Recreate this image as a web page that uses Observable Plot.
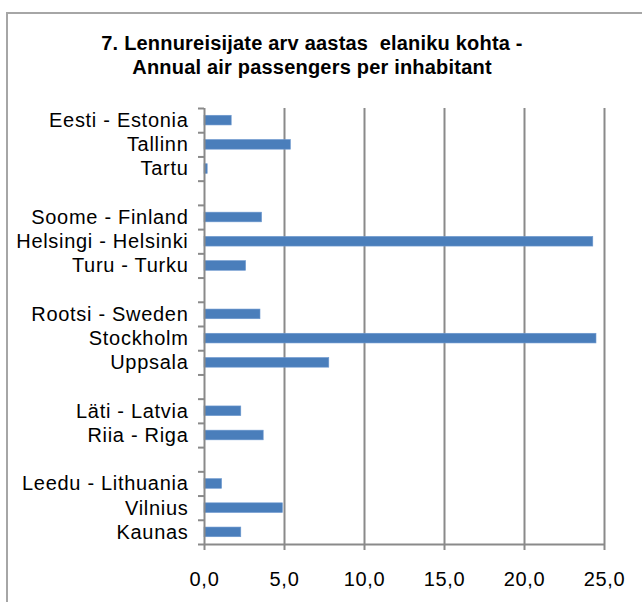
<!DOCTYPE html>
<html>
<head>
<meta charset="utf-8">
<script src="https://cdn.jsdelivr.net/npm/d3@7"></script>
<script src="https://cdn.jsdelivr.net/npm/@observablehq/plot@0.6"></script>
<style>
  html, body { margin: 0; padding: 0; background: #fff; }
  body { width: 642px; height: 602px; position: relative; overflow: hidden; font-family: "Liberation Sans", Arial, sans-serif; }
  #frame { position: absolute; left: 6px; top: 12px; width: 700px; height: 700px; border-left: 2px solid #a6a6a6; border-top: 2px solid #a6a6a6; box-sizing: border-box; }
  #title { position: absolute; left: 0; top: 31px; width: 624px; text-align: center; font-weight: bold; font-size: 20px; line-height: 24px; color: #000; letter-spacing: 0.2px; }
  #chart { position: absolute; left: 0; top: 90px; }
</style>
</head>
<body>
<div id="frame"></div>
<div id="title">7. Lennureisijate arv aastas&nbsp; elaniku kohta -<br>Annual air passengers per inhabitant</div>
<div id="chart"></div>
<script>
const categories = ["Eesti - Estonia", "Tallinn", "Tartu", "", "Soome - Finland", "Helsingi - Helsinki", "Turu - Turku", "", "Rootsi - Sweden", "Stockholm", "Uppsala", "", "Läti - Latvia", "Riia - Riga", "", "Leedu - Lithuania", "Vilnius", "Kaunas"];
const values = [1.7, 5.4, 0.2, null, 3.6, 24.3, 2.6, null, 3.5, 24.5, 7.8, null, 2.3, 3.7, null, 1.1, 4.9, 2.3];
const xTicks = [0, 5, 10, 15, 20, 25];

const rows = categories.map((c, i) => ({i, category: c, value: values[i]}));
const bars = rows.filter(d => d.value != null);
const idx = rows.map(d => d.i);
const bounds = [-0.5, ...idx.map(i => i + 0.5)];
const gray = "#8a8a8a";
const fmt = d => d.toFixed(1).replace(".", ",");

const chart = Plot.plot({
  width: 642,
  height: 512,
  marginLeft: 204,
  marginRight: 38,
  marginTop: 18,
  marginBottom: 58,
  style: {fontFamily: "'Liberation Sans', Arial, sans-serif", fontSize: "20px", color: "#000", background: "transparent", overflow: "visible", letterSpacing: "0.7px"},
  x: {domain: [0, 25]},
  y: {domain: [17.5, -0.5]},
  marks: [
    Plot.ruleX(xTicks.filter(d => d > 0), {stroke: gray, strokeWidth: 2, strokeOpacity: 1}),
    Plot.rectX(bars, {x1: 0, x2: "value", y1: d => d.i - 0.2, y2: d => d.i + 0.2, fill: "#4a7ebb", stroke: "#6f9ad0", strokeWidth: 0.6}),
    Plot.ruleX([0], {stroke: gray, strokeWidth: 2}),
    Plot.ruleY([17.5], {stroke: gray, strokeWidth: 2}),
    Plot.axisY(bounds, {tickSize: 6, tickFormat: () => "", label: null, stroke: gray, strokeWidth: 2, strokeOpacity: 1}),
    Plot.axisY(idx, {tickSize: 0, tickPadding: 16, tickFormat: i => categories[i], label: null, fill: "#000", fontSize: 20}),
    Plot.axisX(xTicks, {tickSize: 6, tickPadding: 21, tickFormat: fmt, label: null, stroke: gray, strokeWidth: 2, strokeOpacity: 1, fill: "#000", fontSize: 20})
  ]
});
document.getElementById("chart").appendChild(chart);
</script>
</body>
</html>
